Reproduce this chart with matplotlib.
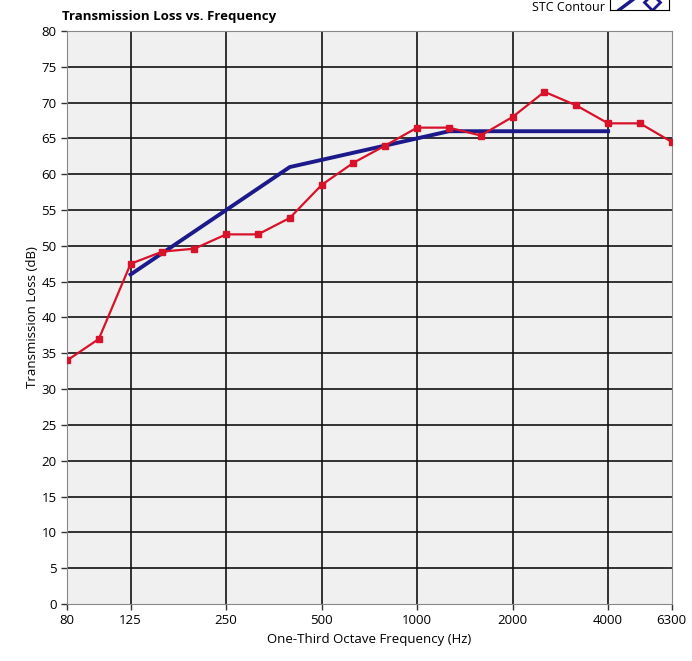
import matplotlib
matplotlib.use('Agg')
import matplotlib.pyplot as plt

# one-third octave bands, 80 Hz .. 6300 Hz
bands = [80, 100, 125, 160, 200, 250, 315, 400, 500, 630, 800, 1000,
         1250, 1600, 2000, 2500, 3150, 4000, 5000, 6300]
tl_measured = [34.0, 37.0, 47.5, 49.2, 49.6, 51.6, 51.6, 53.9, 58.5, 61.6,
               64.0, 66.5, 66.5, 65.4, 68.0, 71.5, 69.6, 67.1, 67.1, 64.5]

# STC contour 125..4000 Hz
stc_bands = [125, 160, 200, 250, 315, 400, 500, 630, 800, 1000,
             1250, 1600, 2000, 2500, 3150, 4000]
stc_values = [46, 49, 52, 55, 58, 61, 62, 63, 64, 65,
              66, 66, 66, 66, 66, 66]

xtick_labels = ['80', '125', '250', '500', '1000', '2000', '4000', '6300']
yticks = list(range(0, 81, 5))

plt.rcParams['font.family'] = ['Open Sans', 'DejaVu Sans']

idx = {b: i for i, b in enumerate(bands)}
x_meas = [idx[b] for b in bands]
x_stc = [idx[b] for b in stc_bands]
x_ticks = [idx[int(t)] for t in xtick_labels]

fig = plt.figure(figsize=(6.92, 6.61), dpi=100)
ax = fig.add_axes([0.0968, 0.0862, 0.874, 0.867])
ax.set_facecolor('#f0f0f0')

# grid lines (no line at the 80 / 6300 edges)
for x in x_ticks[1:-1]:
    ax.axvline(x, color='#111111', lw=1.2, zorder=1)
for y in yticks[1:-1]:
    ax.axhline(y, color='#111111', lw=1.2, zorder=1)

ax.plot(x_stc, stc_values, color='#1c1a8a', lw=2.8, zorder=3)
ax.plot(x_meas, tl_measured, color='#d8122a', lw=1.6, marker='s',
        markersize=4, zorder=4)

ax.set_xlim(0, 19)
ax.set_ylim(0, 80)
ax.set_xticks(x_ticks)
ax.set_xticklabels(xtick_labels)
ax.set_yticks(yticks)
ax.tick_params(axis='both', labelsize=9.5, color='#333333', length=4, width=1)

for s in ax.spines.values():
    s.set_color('#888888')
    s.set_linewidth(0.8)

ax.set_xlabel('One-Third Octave Frequency (Hz)', fontsize=9.5, labelpad=4)
ax.set_ylabel('Transmission Loss (dB)', fontsize=9.5, labelpad=2)

fig.text(0.09, 0.965, 'Transmission Loss vs. Frequency', fontsize=9.5,
         fontweight='bold', va='bottom')

# legend stub at the top edge
fig.text(0.875, 0.998, 'STC Contour', fontsize=9, ha='right', va='top')
lax = fig.add_axes([0.882, 0.985, 0.085, 0.04])
lax.set_xlim(0, 1)
lax.set_ylim(0, 1)
lax.set_xticks([])
lax.set_yticks([])
lax.set_facecolor('white')
lax.plot([0.15, 0.45], [0.0, 0.5], color='#1c1a8a', lw=2.5)
lax.plot([0.7], [0.3], marker='D', markersize=8, color='#1c1a8a',
         markerfacecolor='white', markeredgewidth=2)

plt.savefig('out.png', dpi=100)
plt.close()
